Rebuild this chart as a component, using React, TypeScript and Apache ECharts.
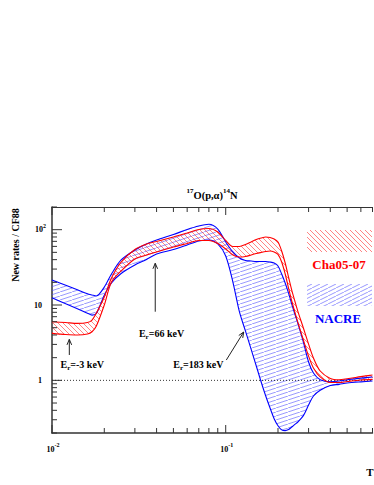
import React, { useEffect, useRef } from 'react';
import * as echarts from 'echarts';

// Temperature grid (T9)
const temperatures = [0.01, 0.012, 0.014, 0.016, 0.017, 0.018, 0.02, 0.022, 0.025, 0.03, 0.035, 0.04, 0.05, 0.06, 0.07, 0.08, 0.09, 0.1, 0.11, 0.12, 0.13, 0.14, 0.15, 0.16, 0.17, 0.18, 0.19, 0.2, 0.21, 0.22, 0.23, 0.24, 0.25, 0.26, 0.28, 0.3, 0.32, 0.35, 0.4, 0.45, 0.5, 0.6, 0.7];

// Cha05-07 band (ratio to CF88)
const chaHigh = [6.0, 5.85, 5.7, 5.85, 6.3, 7.8, 12.8, 22.8, 37.2, 54.6, 64.6, 69.7, 80, 90.4, 100.6, 103.7, 93.2, 71.9, 59.8, 59.8, 63.6, 68.7, 74.1, 77.6, 80, 78.8, 75.2, 68.7, 52.1, 36.1, 23.5, 15.8, 11.3, 8.3, 4.95, 3.03, 1.98, 1.33, 1.06, 1.02, 1.05, 1.12, 1.18];
const chaLow = [4.2, 4.06, 4.0, 4.12, 4.42, 5.26, 10, 20.2, 28.3, 40.8, 46.1, 50.6, 58.9, 65.6, 71.9, 71.9, 65.6, 55.5, 46.1, 43.4, 44.1, 46.1, 48.3, 49.9, 51.3, 52.1, 50.6, 46.9, 37.2, 25.8, 16.8, 11.3, 8.07, 5.94, 3.43, 2.1, 1.46, 1.11, 0.935, 0.935, 0.964, 1.01, 1.03];

// NACRE band (ratio to CF88)
const nacreHigh = [21.5, 18.3, 15.9, 14.1, 13.6, 13.2, 17.3, 25.8, 39.6, 53.7, 64.6, 73, 86.3, 100.6, 112, 118, 102, 68.7, 50.6, 42.1, 39, 38.4, 37.8, 37.8, 37.8, 37.2, 36.1, 33, 25.8, 19.6, 14.4, 10.3, 7.6, 5.77, 3.23, 1.75, 1.25, 1.02, 0.96, 0.98, 1.02, 1.07, 1.11];
const nacreLow = [12.5, 10.4, 8.95, 7.8, 7.35, 7.7, 13.5, 19.6, 26.2, 34, 40.2, 47.5, 54.6, 62.7, 70.8, 73, 64.6, 44.8, 20.2, 8.1, 4.5, 2.6, 1.55, 0.95, 0.62, 0.43, 0.31, 0.25, 0.22, 0.215, 0.222, 0.24, 0.26, 0.28, 0.34, 0.47, 0.62, 0.74, 0.853, 0.885, 0.92, 0.955, 0.98];

// Axes
const xRange = [0.01, 0.7];
const yRange = [0.2, 200];
const xMajorTicks = [0.01, 0.1];
const xMinorTicks = [0.02, 0.03, 0.04, 0.05, 0.06, 0.07, 0.08, 0.09, 0.2, 0.3, 0.4, 0.5, 0.6, 0.7];
const yMajorTicks = [1, 10, 100];
const yMinorTicks = [0.2, 0.3, 0.4, 0.5, 0.6, 0.7, 0.8, 0.9, 2, 3, 4, 5, 6, 7, 8, 9, 20, 30, 40, 50, 60, 70, 80, 90, 200];
const xTickLabelValues = [0.01, 0.1];
const xTickLabels = ['{n|10}{sup|-2}', '{n|10}{sup|-1}'];
const yTickLabelValues = [1, 10, 100];
const yTickLabels = ['{n|1}', '{n|10}', '{n|10}{sup|2}'];
const referenceLine = [1, 1];

// Legend and annotations
const legendNames = ['Cha05-07', 'NACRE'];
const annotationEnergies = ['-3', '66', '183'];
const arrowTails = [[0.01258, 2.17], [0.0393, 8.15], [0.1008, 1.86]];
const arrowTips = [[0.01258, 3.5], [0.0393, 35.8], [0.1269, 4.38]];
const labelPositions = [[0.01494, 1.6], [0.0427, 4.25], [0.0696, 1.6]];

const FONT = '"Liberation Serif", "Times New Roman", serif';
const RED = '#ff0000';
const BLUE = '#0000ff';
const AXIS = '#333333';
const SMOOTH = 0.3;

function hatch(color: string, w: number, h: number, dir: 'up' | 'down') {
  const c = document.createElement('canvas');
  c.width = w;
  c.height = h;
  const ctx = c.getContext('2d')!;
  ctx.strokeStyle = color;
  ctx.lineWidth = 1;
  ctx.beginPath();
  for (const off of [-w, 0, w]) {
    if (dir === 'up') {
      ctx.moveTo(off, h);
      ctx.lineTo(off + w, 0);
    } else {
      ctx.moveTo(off, 0);
      ctx.lineTo(off + w, h);
    }
  }
  ctx.stroke();
  return { image: c, repeat: 'repeat', imageWidth: w, imageHeight: h } as any;
}

export default function App() {
  const ref = useRef<HTMLDivElement>(null);

  useEffect(() => {
    const chart = echarts.init(ref.current!, null, { renderer: 'svg' });
    const redHatch = hatch('rgba(255,50,50,0.6)', 5, 5, 'down');
    const blueHatch = hatch('rgba(70,70,255,0.55)', 12, 4, 'up');
    const blueLegendHatch = hatch('rgba(70,70,255,0.55)', 8, 4, 'up');

    const pair = (ys: number[]) => temperatures.map((t, i) => [t, ys[i]]);

    const boundary = (name: string, ys: number[], color: string, z: number) => ({
      type: 'line',
      name,
      showSymbol: false,
      symbol: 'none',
      smooth: SMOOTH,
      silent: true,
      data: pair(ys),
      lineStyle: { color, width: 1.1 },
      z,
    });

    const band = (name: string, lo: number[], hi: number[], fill: any, z: number) => ({
      type: 'custom',
      name,
      silent: true,
      clip: true,
      data: [[temperatures[0], lo[0]]],
      z,
      renderItem: (params: any, api: any) => {
        const pts: number[][] = [];
        temperatures.forEach((t, i) => pts.push(api.coord([t, hi[i]])));
        for (let i = temperatures.length - 1; i >= 0; i--) pts.push(api.coord([temperatures[i], lo[i]]));
        return {
          type: 'polygon',
          shape: { points: pts, smooth: SMOOTH },
          style: { fill, stroke: null },
        };
      },
    });

    const xTickData = [
      ...xMinorTicks.map((v) => [v, yRange[0], 5]),
      ...xMajorTicks.map((v) => [v, yRange[0], 8]),
    ];
    const yTickData = [
      ...yMinorTicks.map((v) => [xRange[0], v, 5]),
      ...yMajorTicks.map((v) => [xRange[0], v, 10]),
    ];

    const richTick = {
      n: { fontFamily: FONT, fontWeight: 'bold', fontSize: 8, lineHeight: 14, color: '#000' },
      sup: { fontFamily: FONT, fontWeight: 'bold', fontSize: 6, lineHeight: 6, verticalAlign: 'top', color: '#000' },
    };

    const option: any = {
      animation: false,
      title: {
        text: '{sup|17}{t|O(p,α)}{sup|14}{t|N}',
        left: 207,
        top: 182,
        textAlign: 'center',
        textStyle: {
          rich: {
            t: { fontFamily: FONT, fontWeight: 'bold', fontSize: 10.5, lineHeight: 16, color: '#000' },
            sup: { fontFamily: FONT, fontWeight: 'bold', fontSize: 7, lineHeight: 7, verticalAlign: 'top', color: '#000' },
          },
        },
      },
      grid: { left: 52, right: 1.5, top: 207, bottom: 52, containLabel: false },
      xAxis: [
        {
          type: 'log',
          logBase: 10,
          min: xRange[0],
          max: xRange[1],
          position: 'bottom',
          axisLine: { show: true, lineStyle: { color: AXIS, width: 1.5 } },
          axisTick: { show: false },
          axisLabel: { show: false },
          splitLine: { show: false },
        },
        {
          type: 'log',
          logBase: 10,
          min: xRange[0],
          max: xRange[1],
          position: 'top',
          axisLine: { show: true, lineStyle: { color: AXIS, width: 1 } },
          axisTick: { show: false },
          axisLabel: { show: false },
          splitLine: { show: false },
        },
      ],
      yAxis: {
        type: 'log',
        logBase: 10,
        min: yRange[0],
        max: yRange[1],
        axisLine: { show: true, lineStyle: { color: AXIS, width: 1.5 } },
        axisTick: { show: false },
        axisLabel: { show: false },
        splitLine: { show: false },
      },
      series: [
        band('NACRE band', nacreLow, nacreHigh, blueHatch, 2),
        band('Cha05-07 band', chaLow, chaHigh, redHatch, 2),
        boundary('NACRE low', nacreLow, BLUE, 3),
        boundary('NACRE high', nacreHigh, BLUE, 3),
        boundary('Cha05-07 low', chaLow, RED, 4),
        boundary('Cha05-07 high', chaHigh, RED, 4),
        {
          type: 'line',
          name: 'unity',
          showSymbol: false,
          symbol: 'none',
          silent: true,
          data: xRange.map((x, i) => [x, referenceLine[i]]),
          lineStyle: { color: '#000', width: 0.8, type: [1, 2] },
          z: 2,
        },
        {
          type: 'custom',
          name: 'xticks',
          silent: true,
          data: xTickData,
          z: 6,
          renderItem: (params: any, api: any) => {
            const v = api.value(0);
            const len = api.value(2);
            const b = api.coord([v, yRange[0]]);
            const t = api.coord([v, yRange[1]]);
            return {
              type: 'group',
              children: [
                { type: 'line', shape: { x1: b[0], y1: b[1], x2: b[0], y2: b[1] - len }, style: { stroke: AXIS, lineWidth: 1 } },
                { type: 'line', shape: { x1: t[0], y1: t[1], x2: t[0], y2: t[1] + len }, style: { stroke: AXIS, lineWidth: 1 } },
              ],
            };
          },
        },
        {
          type: 'custom',
          name: 'yticks',
          silent: true,
          data: yTickData,
          z: 6,
          renderItem: (params: any, api: any) => {
            const v = api.value(1);
            const len = api.value(2);
            const p = api.coord([xRange[0], v]);
            return { type: 'line', shape: { x1: p[0], y1: p[1], x2: p[0] + len, y2: p[1] }, style: { stroke: AXIS, lineWidth: 1 } };
          },
        },
        {
          type: 'custom',
          name: 'xlabels',
          silent: true,
          data: xTickLabelValues.map((v) => [v, yRange[0]]),
          z: 6,
          renderItem: (params: any, api: any) => {
            const p = api.coord([api.value(0), yRange[0]]);
            return {
              type: 'text',
              x: p[0] + 1,
              y: p[1] + 16,
              style: { text: xTickLabels[params.dataIndex], rich: richTick, align: 'center', verticalAlign: 'middle' },
            };
          },
        },
        {
          type: 'custom',
          name: 'ylabels',
          silent: true,
          data: yTickLabelValues.map((v) => [xRange[0], v]),
          z: 6,
          renderItem: (params: any, api: any) => {
            const p = api.coord([xRange[0], api.value(1)]);
            const label = yTickLabels[params.dataIndex];
            const extra = label.indexOf('sup') >= 0 ? 4 : 0;
            return {
              type: 'text',
              x: p[0] - 10 + extra,
              y: p[1],
              style: { text: label, rich: richTick, align: 'right', verticalAlign: 'middle' },
            };
          },
        },
      ],
    };

    chart.setOption(option);

    const px = (p: number[]) => chart.convertToPixel({ xAxisIndex: 0, yAxisIndex: 0 }, p) as number[];
    const annotRich = {
      m: { fontFamily: FONT, fontWeight: 'bold', fontSize: 10, lineHeight: 14, color: '#000' },
      sub: { fontFamily: FONT, fontWeight: 'bold', fontSize: 7, lineHeight: 7, verticalAlign: 'bottom', color: '#000' },
    };
    const graphics: any[] = [];
    annotationEnergies.forEach((e, i) => {
      const a = px(arrowTails[i]);
      const b = px(arrowTips[i]);
      const dx = b[0] - a[0];
      const dy = b[1] - a[1];
      const L = Math.sqrt(dx * dx + dy * dy);
      const ux = dx / L;
      const uy = dy / L;
      const hl = 6;
      const ang = 0.4;
      const w1 = [b[0] - hl * (ux * Math.cos(ang) - uy * Math.sin(ang)), b[1] - hl * (uy * Math.cos(ang) + ux * Math.sin(ang))];
      const w2 = [b[0] - hl * (ux * Math.cos(-ang) - uy * Math.sin(-ang)), b[1] - hl * (uy * Math.cos(-ang) + ux * Math.sin(-ang))];
      graphics.push({
        type: 'line',
        silent: true,
        shape: { x1: a[0], y1: a[1], x2: b[0], y2: b[1] },
        style: { stroke: '#222', lineWidth: 1 },
        z: 10,
      });
      graphics.push({
        type: 'polyline',
        silent: true,
        shape: { points: [w1, b, w2] },
        style: { stroke: '#222', lineWidth: 1, fill: null },
        z: 10,
      });
      const lp = px(labelPositions[i]);
      graphics.push({
        type: 'text',
        silent: true,
        x: lp[0],
        y: lp[1],
        style: {
          text: `{m|E}{sub|r}{m|=${e} keV}`,
          rich: annotRich,
          align: 'center',
          verticalAlign: 'middle',
        },
        z: 10,
      });
    });

    graphics.push({
      type: 'text',
      silent: true,
      x: 15,
      y: 245,
      rotation: Math.PI / 2,
      style: {
        text: 'New rates / CF88',
        font: `bold 10px ${FONT}`,
        fill: '#000',
        align: 'center',
        verticalAlign: 'middle',
      },
    });
    graphics.push({
      type: 'text',
      silent: true,
      x: 370,
      y: 472,
      style: { text: 'T', font: `bold 11px ${FONT}`, fill: '#000', align: 'center', verticalAlign: 'middle' },
    });

    graphics.push({ type: 'rect', silent: true, shape: { x: 307, y: 230, width: 65, height: 22 }, style: { fill: redHatch, stroke: null } });
    graphics.push({
      type: 'text',
      silent: true,
      x: 339,
      y: 264,
      style: { text: legendNames[0], font: `bold 13px ${FONT}`, fill: RED, align: 'center', verticalAlign: 'middle' },
    });
    graphics.push({ type: 'rect', silent: true, shape: { x: 307, y: 284, width: 65, height: 22 }, style: { fill: blueLegendHatch, stroke: null } });
    graphics.push({
      type: 'text',
      silent: true,
      x: 338,
      y: 318,
      style: { text: legendNames[1], font: `bold 13px ${FONT}`, fill: BLUE, align: 'center', verticalAlign: 'middle' },
    });

    chart.setOption({ graphic: graphics });

    return () => chart.dispose();
  }, []);

  return <div ref={ref} style={{ position: 'fixed', left: 0, top: 0, width: 374, height: 485, background: '#fff' }} />;
}
